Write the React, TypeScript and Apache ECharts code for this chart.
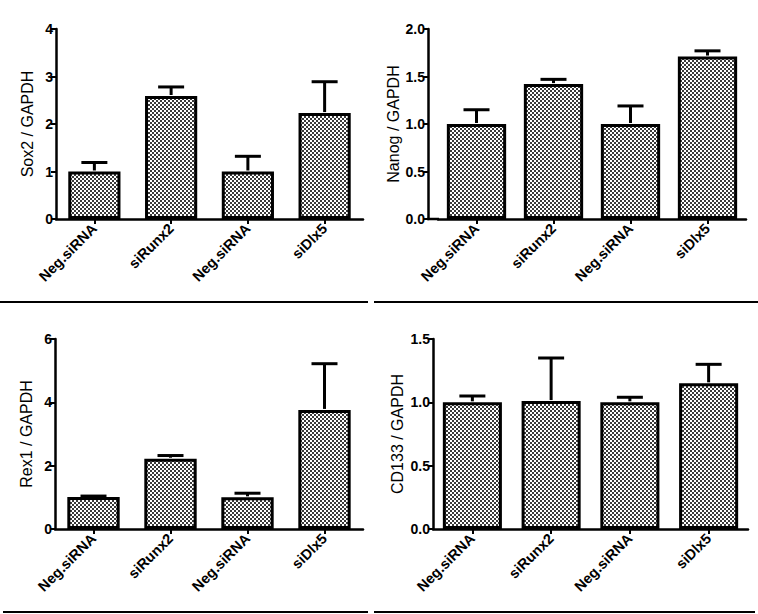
import React, { useEffect, useRef } from "react";
import * as echarts from "echarts";

const categories = ["Neg.siRNA", "siRunx2", "Neg.siRNA", "siDlx5"];

const sox2Values = [1.0, 2.59, 1.0, 2.23];
const sox2Errors = [0.19, 0.19, 0.32, 0.66];

const nanogValues = [1.0, 1.42, 1.0, 1.71];
const nanogErrors = [0.15, 0.05, 0.19, 0.06];

const rex1Values = [1.01, 2.22, 1.0, 3.76];
const rex1Errors = [0.03, 0.1, 0.13, 1.46];

const cd133Values = [1.0, 1.01, 1.0, 1.15];
const cd133Errors = [0.05, 0.34, 0.04, 0.15];

const panelNames = ["Sox2 / GAPDH", "Nanog / GAPDH", "Rex1 / GAPDH", "CD133 / GAPDH"];
const yMax = [4, 2, 6, 1.5];
const yInterval = [1, 0.5, 2, 0.5];
const yDecimals = [0, 1, 0, 1];

const FONT = "Liberation Sans, Arial, sans-serif";

function makePattern() {
  const c = document.createElement("canvas");
  c.width = 4;
  c.height = 4;
  const ctx = c.getContext("2d")!;
  ctx.fillStyle = "#ffffff";
  ctx.fillRect(0, 0, 4, 4);
  ctx.fillStyle = "#3a3a3a";
  ctx.fillRect(0, 0, 2, 2);
  ctx.fillRect(2, 2, 2, 2);
  return { image: c, repeat: "repeat" } as any;
}

export default function App() {
  const ref = useRef<HTMLDivElement>(null);
  useEffect(() => {
    if (!ref.current) return;
    const chart = echarts.init(ref.current, undefined, { renderer: "svg" });
    const pattern = makePattern();
    const values = [sox2Values, nanogValues, rex1Values, cd133Values];
    const errors = [sox2Errors, nanogErrors, rex1Errors, cd133Errors];
    const grids = [
      { left: 56, top: 29, width: 307, height: 190 },
      { left: 438, top: 29, width: 308, height: 190 },
      { left: 55, top: 339, width: 308, height: 190 },
      { left: 433, top: 339, width: 315, height: 190 },
    ];
    const yOffsets = [0, 10, 0, 0];
    const barWidths = ["68%", "77%", "68%", "75%"];
    const capHalf = [13, 13, 13, 13];
    const nameGaps = [21, 21, 21, 28];

    const xAxes = grids.map((_, i) => ({
      type: "category",
      gridIndex: i,
      data: categories,
      axisLine: { show: true, lineStyle: { color: "#000", width: 2.5 } },
      axisTick: { show: true, alignWithLabel: true, length: 5, lineStyle: { color: "#000", width: 2 } },
      axisLabel: {
        interval: 0,
        rotate: 45,
        margin: 7,
        color: "#000",
        fontWeight: "bold",
        fontSize: 14.5,
        fontFamily: FONT,
      },
    }));
    const yAxes = grids.map((_, i) => ({
      type: "value",
      gridIndex: i,
      min: 0,
      max: yMax[i],
      interval: yInterval[i],
      offset: yOffsets[i],
      name: panelNames[i],
      nameLocation: "middle",
      nameGap: nameGaps[i],
      nameTextStyle: { color: "#000", fontSize: 16, fontFamily: FONT },
      splitLine: { show: false },
      axisLine: { show: true, lineStyle: { color: "#000", width: 2.5 } },
      axisTick: { show: true, length: 5, lineStyle: { color: "#000", width: 2 } },
      axisLabel: {
        color: "#000",
        fontWeight: "bold",
        fontSize: 14,
        fontFamily: FONT,
        margin: 3,
        formatter: (v: number) => v.toFixed(yDecimals[i]),
      },
    }));

    const series: any[] = [];
    values.forEach((vals, i) => {
      series.push({
        type: "bar",
        xAxisIndex: i,
        yAxisIndex: i,
        data: vals,
        barWidth: barWidths[i],
        itemStyle: { color: pattern, borderColor: "#000", borderWidth: 3 },
        z: 2,
      });
      series.push({
        type: "custom",
        xAxisIndex: i,
        yAxisIndex: i,
        z: 3,
        data: vals.map((v, k) => [k, v, errors[i][k]]),
        renderItem: (params: any, api: any) => {
          const idx = api.value(0);
          const v = api.value(1);
          const e = api.value(2);
          const base = api.coord([idx, v]);
          const top = api.coord([idx, v + e]);
          const style = { stroke: "#000", lineWidth: 3, fill: "none" };
          return {
            type: "group",
            children: [
              { type: "line", shape: { x1: base[0], y1: base[1] - 1, x2: top[0], y2: top[1] }, style },
              { type: "line", shape: { x1: top[0] - capHalf[i], y1: top[1], x2: top[0] + capHalf[i], y2: top[1] }, style },
            ],
          };
        },
      });
    });

    const sepStyle = { stroke: "#000", lineWidth: 2 };
    chart.setOption({
      animation: false,
      backgroundColor: "#fff",
      grid: grids,
      xAxis: xAxes,
      yAxis: yAxes,
      series,
      graphic: [
        // x-axis line extension joining the offset y axis in the top-right panel
        { type: "line", shape: { x1: 427, y1: 219, x2: 439, y2: 219 }, style: { stroke: "#000", lineWidth: 2.5 } },
        { type: "line", shape: { x1: 0, y1: 302, x2: 368, y2: 302 }, style: sepStyle },
        { type: "line", shape: { x1: 374, y1: 302, x2: 758, y2: 302 }, style: sepStyle },
        { type: "line", shape: { x1: 3, y1: 612, x2: 368, y2: 612 }, style: sepStyle },
        { type: "line", shape: { x1: 374, y1: 612, x2: 755, y2: 612 }, style: sepStyle },
      ],
    });
    return () => chart.dispose();
  }, []);
  return (
    <div
      ref={ref}
      style={{ position: "fixed", left: 0, top: 0, width: 758, height: 614, background: "#fff" }}
    />
  );
}
